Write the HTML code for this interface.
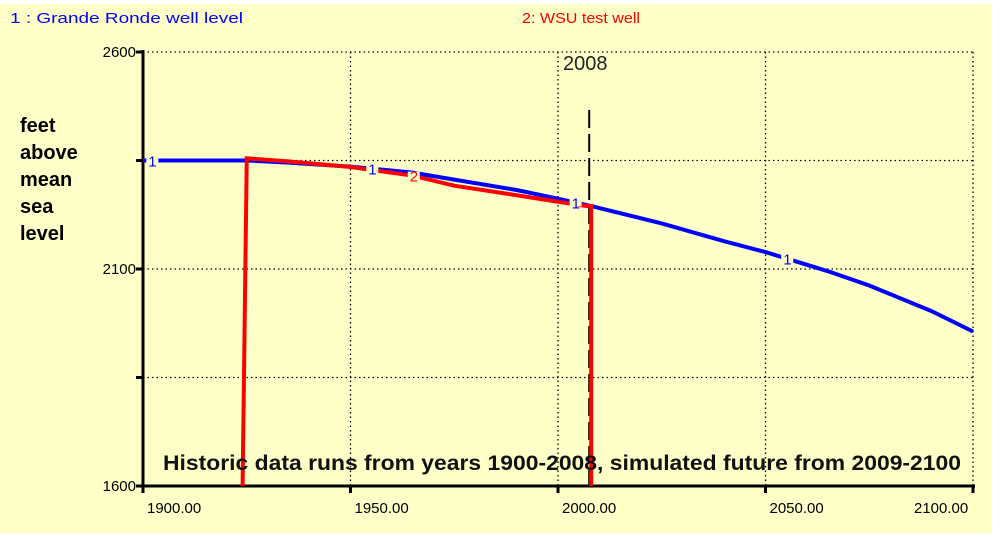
<!DOCTYPE html>
<html><head><meta charset="utf-8"><style>
html,body{margin:0;padding:0;background:#fff;}
svg{display:block;font-family:"Liberation Sans",sans-serif;}
</style></head><body>
<svg width="1000" height="537" viewBox="0 0 1000 537">
<rect x="0" y="4" width="992" height="529" fill="#ffffc8"/>
<text x="10" y="23" font-size="15" fill="#0000ff" textLength="233" lengthAdjust="spacingAndGlyphs">1 : Grande Ronde well level</text>
<text x="522" y="23" font-size="15" fill="#ff0000" textLength="118" lengthAdjust="spacingAndGlyphs">2: WSU test well</text>
<g font-weight="bold" font-size="20" fill="#000">
<text x="20" y="132">feet</text><text x="20" y="159">above</text><text x="20" y="186">mean</text><text x="20" y="213">sea</text><text x="20" y="240">level</text>
</g>
<g id="grid"></g>
<g id="axes"></g>
<g id="series"></g>
<text x="563" y="70" font-size="20" fill="#222">2008</text>
<text x="163" y="470" font-size="21" font-weight="bold" fill="#111" font-family="'Liberation Sans Narrow','Liberation Sans',sans-serif" textLength="798" lengthAdjust="spacingAndGlyphs">Historic data runs from years 1900-2008, simulated future from 2009-2100</text>
</svg>
<script>
const xTicks=[1900,1950,2000,2050,2100];
const xTickLabels=["1900.00","1950.00","2000.00","2050.00","2100.00"];
const yTicks=[1600,1850,2100,2350,2600];
const yTickLabels=["1600","","2100","","2600"];
const blueYears=[1900,1925,1935,1950,1965,1975,1990,2000,2008,2025,2040,2050,2065,2075,2090,2100];
const blueValues=[2350,2350,2345,2336,2322,2306,2282,2262,2245,2205,2164,2139,2095,2062,2003,1956];
const redYears=[1922,1924,1925,1935,1950,1965,1975,1990,2000,2007,2008,2008];
const redValues=[1550,1600,2355,2348,2335,2315,2292,2270,2255,2245,2245,1600];
const markerYear=2008;
const NS="http://www.w3.org/2000/svg";
function X(v){return 143+(v-1900)*(973-143)/200;}
function Y(v){return 486-(v-1600)*(486-52)/1000;}
function mk(t,a,p){const e=document.createElementNS(NS,t);for(const k in a)e.setAttribute(k,a[k]);p.appendChild(e);return e;}
const grid=document.getElementById('grid'),axes=document.getElementById('axes'),series=document.getElementById('series');
xTicks.forEach((t,i)=>{
 if(i>0){const l=mk('line',{x1:X(t),x2:X(t),y1:Y(2600),y2:Y(1600),stroke:'#000','stroke-width':1.3,'stroke-dasharray':'1.5,3'},grid);
 
 }
 const tk=mk('line',{x1:X(t),x2:X(t),y1:486,y2:493,stroke:'#000','stroke-width':3},axes);
 
 
 const tx=mk('text',{x:i==4?X(t)-59:X(t)+4,y:513,'font-size':15,fill:'#000'},axes);tx.textContent=xTickLabels[i];
 
 
});
yTicks.forEach((t,i)=>{
 if(i>0){const l=mk('line',{x1:X(1900),x2:X(2100),y1:Y(t),y2:Y(t),stroke:'#000','stroke-width':1.3,'stroke-dasharray':'1.5,3'},grid);
 
 }
 const tk=mk('line',{x1:136,x2:143,y1:Y(t),y2:Y(t),stroke:'#000','stroke-width':3},axes);
 
 
 if(yTickLabels[i]){const tx=mk('text',{x:136,y:Y(t)+5,'font-size':15,'text-anchor':'end',fill:'#000'},axes);tx.textContent=yTickLabels[i];
 
 }
});
const ya=mk('line',{x1:143,x2:143,y1:50,y2:488,stroke:'#000','stroke-width':3},axes);


const xa=mk('line',{x1:141,x2:975,y1:486,y2:486,stroke:'#000','stroke-width':3},axes);


const dm=mk('line',{x1:X(markerYear)-2,x2:X(markerYear)-2,y1:110,y2:486,stroke:'#000','stroke-width':2,'stroke-dasharray':'18,6'},series);


const cp=mk('clipPath',{id:'cp'},series);mk('rect',{x:143,y:50,width:832,height:436},cp);
const bp=mk('polyline',{points:blueYears.map((y,i)=>X(y)+','+Y(blueValues[i])).join(' '),fill:'none',stroke:'#0000ff','stroke-width':4,'clip-path':'url(#cp)'},series);


const rp=mk('polyline',{points:redYears.map((y,i)=>X(y)+','+Y(redValues[i])).join(' '),fill:'none',stroke:'#ff0000','stroke-width':4,'clip-path':'url(#cp)'},series);


function interp(ys,vs,yr){for(let i=1;i<ys.length;i++)if(yr<=ys[i]){const f=(yr-ys[i-1])/(ys[i]-ys[i-1]||1);return vs[i-1]+f*(vs[i]-vs[i-1]);}return vs[vs.length-1];}
[[1902,'1','#0000ff',blueYears,blueValues],[1955,'1','#0000ff',blueYears,blueValues],[2004,'1','#0000ff',blueYears,blueValues],[2055,'1','#0000ff',blueYears,blueValues],[1965,'2','#ff0000',redYears,redValues]].forEach(m=>{
 const v=interp(m[3],m[4],m[0]);
 mk('rect',{x:X(m[0])-5,y:Y(v)-4,width:12,height:8,fill:'#ffffc8'},series);
 const t=mk('text',{x:X(m[0])-3,y:Y(v)+6,'font-size':15,fill:m[2]},series);t.textContent=m[1];
 
 
});
</script>
</body></html>
